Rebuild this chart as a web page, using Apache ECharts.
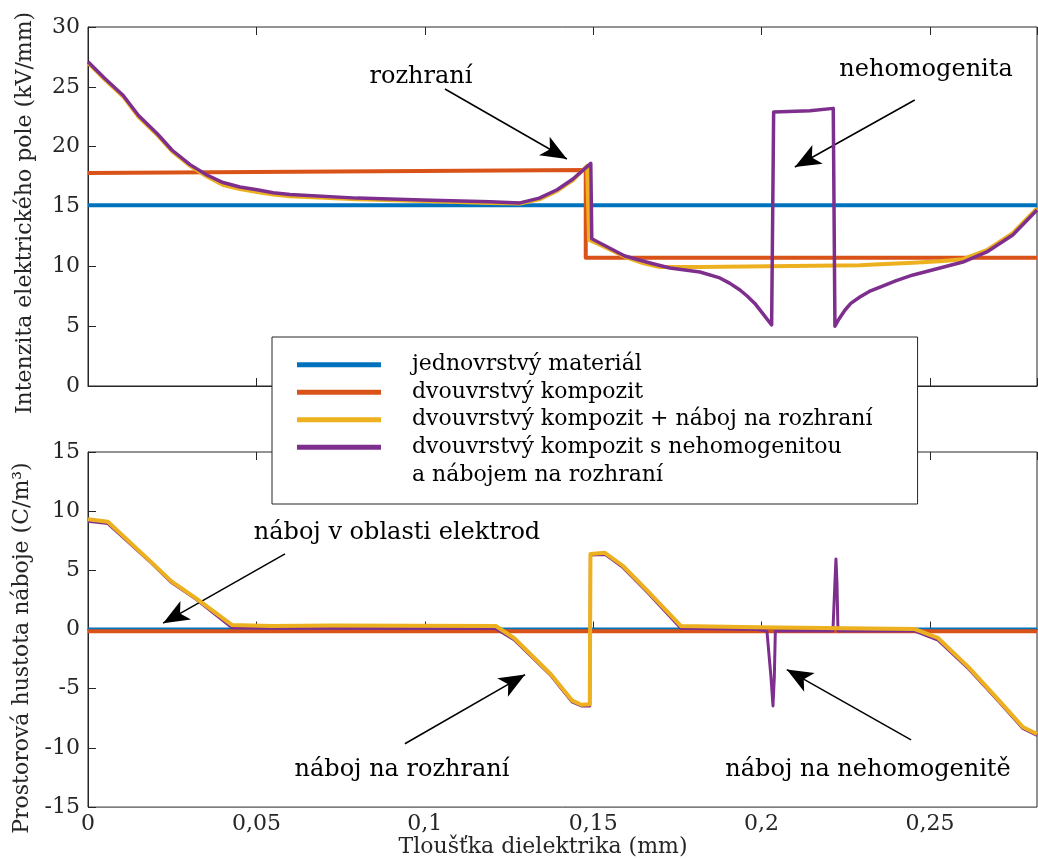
<!DOCTYPE html>
<html>
<head>
<meta charset="utf-8">
<script src="https://cdn.jsdelivr.net/npm/echarts@6/dist/echarts.min.js"></script>
<style>
  html, body { margin: 0; padding: 0; background: #fff; }
  #chart { width: 1038px; height: 859px; }
</style>
</head>
<body>
<div id="chart"></div>
<script>
// ===== data (x in mm) =====
var X_MAX = 0.2818;
var seriesNames = [
    'jednovrstvý materiál',
    'dvouvrstvý kompozit',
    'dvouvrstvý kompozit + náboj na rozhraní',
    'dvouvrstvý kompozit s nehomogenitou'
];
var seriesColors = ['#0072BD', '#D95319', '#EDB120', '#7E2F8E'];
var xTicks = [0, 0.05, 0.1, 0.15, 0.2, 0.25];

// top panel: electric field (kV/mm)
var topBlueX = [0, 0.2818];
var topBlueY = [15.1, 15.1];
var topOrangeX = [0, 0.1478, 0.1478, 0.2818];
var topOrangeY = [17.8, 18.05, 10.72, 10.72];
var topYellowX = [0, 0.005, 0.0104, 0.015, 0.0205, 0.025, 0.0303, 0.0353, 0.0401, 0.0451, 0.0502, 0.055, 0.0600,
    0.0799, 0.0995, 0.1194, 0.1283, 0.134, 0.1393, 0.144, 0.1482,
    0.1488, 0.1520, 0.1594, 0.1650, 0.1698, 0.1817, 0.2025, 0.2292, 0.2352, 0.2450, 0.2530, 0.2598, 0.2669, 0.2746, 0.2818];
var topYellowY = [27.0, 25.6, 24.2, 22.5, 21.0, 19.6, 18.4, 17.5, 16.8, 16.45, 16.2, 16.0, 15.85,
    15.6, 15.45, 15.3, 15.25, 15.6, 16.3, 17.2, 18.4,
    12.2, 11.8, 10.8, 10.25, 9.95, 9.95, 10.0, 10.1, 10.17, 10.3, 10.42, 10.6, 11.35, 12.78, 14.85];
var topPurpleX = [0, 0.005, 0.0104, 0.015, 0.0205, 0.025, 0.0303, 0.0353, 0.0401, 0.0451, 0.0502, 0.055, 0.0600,
    0.0799, 0.0995, 0.1194, 0.1283, 0.134, 0.1393, 0.144, 0.1493,
    0.1496, 0.1520, 0.1594, 0.1669, 0.1728, 0.1817, 0.1876, 0.1905, 0.1936, 0.1958, 0.1980, 0.2005, 0.2030,
    0.2036, 0.2144, 0.2213,
    0.2218, 0.2230, 0.2248, 0.2265, 0.2292, 0.2320, 0.2352, 0.2400, 0.2450, 0.2598, 0.2669, 0.2746, 0.2818];
var topPurpleY = [27.1, 25.7, 24.3, 22.6, 21.1, 19.7, 18.5, 17.63, 17.0, 16.63, 16.4, 16.15, 16.0,
    15.7, 15.55, 15.4, 15.3, 15.7, 16.4, 17.3, 18.6,
    12.3, 11.95, 10.86, 10.28, 9.86, 9.53, 9.03, 8.6, 8.02, 7.5, 6.9, 6.0, 5.1,
    22.9, 23.0, 23.2,
    5.0, 5.6, 6.35, 6.9, 7.44, 7.9, 8.27, 8.8, 9.28, 10.36, 11.2, 12.62, 14.71];

// bottom panel: space charge density (C/m3)
var botBlueX = [0, 0.2818];
var botBlueY = [0, 0];
var botOrangeX = [0, 0.2818];
var botOrangeY = [-0.15, -0.15];
var botYellowX = [0, 0.0059, 0.0187, 0.0249, 0.0321, 0.0428, 0.0546, 0.0724, 0.1211, 0.1265, 0.1375, 0.1437, 0.1465,
    0.1490, 0.1492, 0.1535, 0.1588, 0.1663, 0.1761, 0.1986, 0.2453, 0.2524, 0.2616, 0.2705, 0.2776, 0.2818];
var botYellowY = [9.32, 9.1, 5.72, 4.05, 2.63, 0.38, 0.3, 0.35, 0.3, -0.71, -3.8, -5.98, -6.35,
    -6.31, 6.39, 6.48, 5.39, 3.22, 0.29, 0.2, 0.05, -0.71, -3.22, -5.98, -8.23, -8.82];
var botPurpleX = [0, 0.0059, 0.0187, 0.0249, 0.0321, 0.0428, 0.0546, 0.0724, 0.1211, 0.1265, 0.1375, 0.1437, 0.1465,
    0.1490, 0.1492, 0.1535, 0.1588, 0.1663, 0.1761, 0.1986, 0.2016, 0.2028, 0.2034, 0.2038, 0.2041,
    0.2212, 0.2218, 0.2221, 0.2224, 0.2227, 0.2453, 0.2524, 0.2616, 0.2705, 0.2776, 0.2818];
var botPurpleY = [9.15, 8.95, 5.65, 3.95, 2.55, 0.15, 0.1, 0.12, 0.08, -0.85, -3.9, -6.1, -6.45,
    -6.45, 6.3, 6.35, 5.25, 3.1, 0.1, 0.0, -0.12, -4.0, -6.45, -4.0, -0.12,
    -0.12, 4.0, 5.95, 4.0, -0.12, -0.1, -0.9, -3.35, -6.1, -8.35, -8.95];

// annotations: [text, arrow start, arrow tip] in data units
var topNotes = [
    ['rozhraní', [0.1060, 24.82], [0.1422, 18.97]],
    ['nehomogenita', [0.2455, 23.90], [0.2099, 18.30]]
];
var botNotes = [
    ['náboj v oblasti elektrod', [0.0585, 6.39], [0.0223, 0.54]],
    ['náboj na rozhraní', [0.0941, -9.65], [0.1298, -3.80]],
    ['náboj na nehomogenitě', [0.2444, -9.32], [0.2075, -3.38]]
];

var FONT = "'DejaVu Serif', serif";
var AXIS_COLOR = '#262626';

function pairs(xs, ys) {
    return xs.map(function(x, i) { return [x, ys[i]]; });
}

function arrowLines(notes) {
    return notes.map(function(n) {
        return [{ coord: n[1], symbol: 'none' }, { coord: n[2], symbol: 'arrow' }];
    });
}

function lineSeries(idx, gridIdx, xs, ys, width, z, notes) {
    var s = {
        name: seriesNames[idx],
        type: 'line',
        xAxisIndex: gridIdx * 2,
        yAxisIndex: gridIdx,
        data: pairs(xs, ys),
        showSymbol: false,
        symbol: 'none',
        z: z,
        itemStyle: { color: seriesColors[idx] },
        lineStyle: { color: seriesColors[idx], width: width, join: 'round' }
    };
    if (notes) {
        s.markLine = {
            silent: true,
            symbolSize: [16, 26],
            label: { show: false },
            lineStyle: { color: '#000', width: 1.5, type: 'solid' },
            itemStyle: { color: '#000' },
            data: arrowLines(notes),
            animation: false
        };
    }
    return s;
}

function xAxisFor(gridIdx, pos, withLabels) {
    return {
        type: 'value',
        gridIndex: gridIdx,
        position: pos,
        min: 0,
        max: X_MAX,
        interval: 0.05,
        axisLine: { show: pos === 'bottom', lineStyle: { color: AXIS_COLOR, width: 1 } },
        axisTick: { inside: true, length: 8, lineStyle: { color: AXIS_COLOR } },
        splitLine: { show: false },
        axisLabel: {
            show: withLabels,
            showMaxLabel: false,
            margin: 6,
            color: AXIS_COLOR,
            fontFamily: FONT,
            fontSize: 22,
            formatter: function(v) {
                var hit = xTicks.filter(function(t) { return Math.abs(t - v) < 1e-6; });
                if (!hit.length) return '';
                return String(hit[0]).replace('.', ',');
            }
        },
        name: withLabels ? 'Tloušťka dielektrika (mm)' : '',
        nameLocation: 'middle',
        nameGap: 27,
        nameTextStyle: { color: AXIS_COLOR, fontFamily: FONT, fontSize: 22, padding: [0, 39, 0, 0] }
    };
}

function yAxisFor(gridIdx, min, max, name, shift) {
    return {
        type: 'value',
        gridIndex: gridIdx,
        min: min,
        max: max,
        interval: 5,
        axisLine: { show: true, lineStyle: { color: AXIS_COLOR, width: 1 } },
        axisTick: { inside: true, length: 8, lineStyle: { color: AXIS_COLOR } },
        splitLine: { show: false },
        axisLabel: { margin: 8, color: AXIS_COLOR, fontFamily: FONT, fontSize: 22 },
        name: name,
        nameLocation: 'middle',
        nameRotate: 90,
        nameGap: 52,
        nameTextStyle: { color: AXIS_COLOR, fontFamily: FONT, fontSize: 22, padding: [0, shift, 0, 0] }
    };
}

function noteText(text, x, y) {
    return {
        type: 'text',
        z: 100,
        style: { text: text, x: x, y: y, align: 'center', verticalAlign: 'middle', font: '24px ' + FONT, fill: '#000' }
    };
}

var chart = echarts.init(document.getElementById('chart'));

var option = {
    animation: false,
    backgroundColor: '#fff',
    grid: [
        { left: 88, top: 27, width: 949, height: 359, show: true, borderColor: AXIS_COLOR, borderWidth: 1 },
        { left: 88, top: 452, width: 949, height: 359, show: true, borderColor: AXIS_COLOR, borderWidth: 1 }
    ],
    xAxis: [
        xAxisFor(0, 'bottom', false),
        xAxisFor(0, 'top', false),
        xAxisFor(1, 'bottom', true),
        xAxisFor(1, 'top', false)
    ],
    yAxis: [
        yAxisFor(0, 0, 30, 'Intenzita elektrického pole (kV/mm)', 13),
        yAxisFor(1, -15, 15, 'Prostorová hustota náboje (C/m³)', 37)
    ],
    legend: {
        data: seriesNames,
        orient: 'vertical',
        left: 272,
        top: 337,
        icon: 'rect',
        itemWidth: 84,
        itemHeight: 5,
        itemGap: 0,
        padding: [14, 45, 43, 25],
        backgroundColor: '#fff',
        borderColor: AXIS_COLOR,
        borderWidth: 1,
        borderRadius: 0,
        selectedMode: false,
        textStyle: { fontFamily: FONT, fontSize: 22, color: '#000', lineHeight: 27.5, padding: [0, 0, 0, 26] }
    },
    graphic: [
        { type: 'text', z: 100, style: { text: 'a nábojem na rozhraní', x: 412, y: 475, verticalAlign: 'middle', font: '22px ' + FONT, fill: '#000' } },
        noteText(topNotes[0][0], 421, 77),
        noteText(topNotes[1][0], 926, 70),
        noteText(botNotes[0][0], 397, 533),
        noteText(botNotes[1][0], 402, 770),
        noteText(botNotes[2][0], 868, 770)
    ],
    series: [
        lineSeries(0, 0, topBlueX, topBlueY, 4, 2, topNotes),
        lineSeries(1, 0, topOrangeX, topOrangeY, 4, 3),
        lineSeries(2, 0, topYellowX, topYellowY, 4, 4),
        lineSeries(3, 0, topPurpleX, topPurpleY, 3.5, 5),
        lineSeries(0, 1, botBlueX, botBlueY, 4, 2, botNotes),
        lineSeries(1, 1, botOrangeX, botOrangeY, 4, 3),
        lineSeries(3, 1, botPurpleX, botPurpleY, 3, 4),
        lineSeries(2, 1, botYellowX, botYellowY, 4, 5)
    ]
};

chart.setOption(option);

window.addEventListener('resize', function() {
    chart.resize();
});
</script>
</body>
</html>
